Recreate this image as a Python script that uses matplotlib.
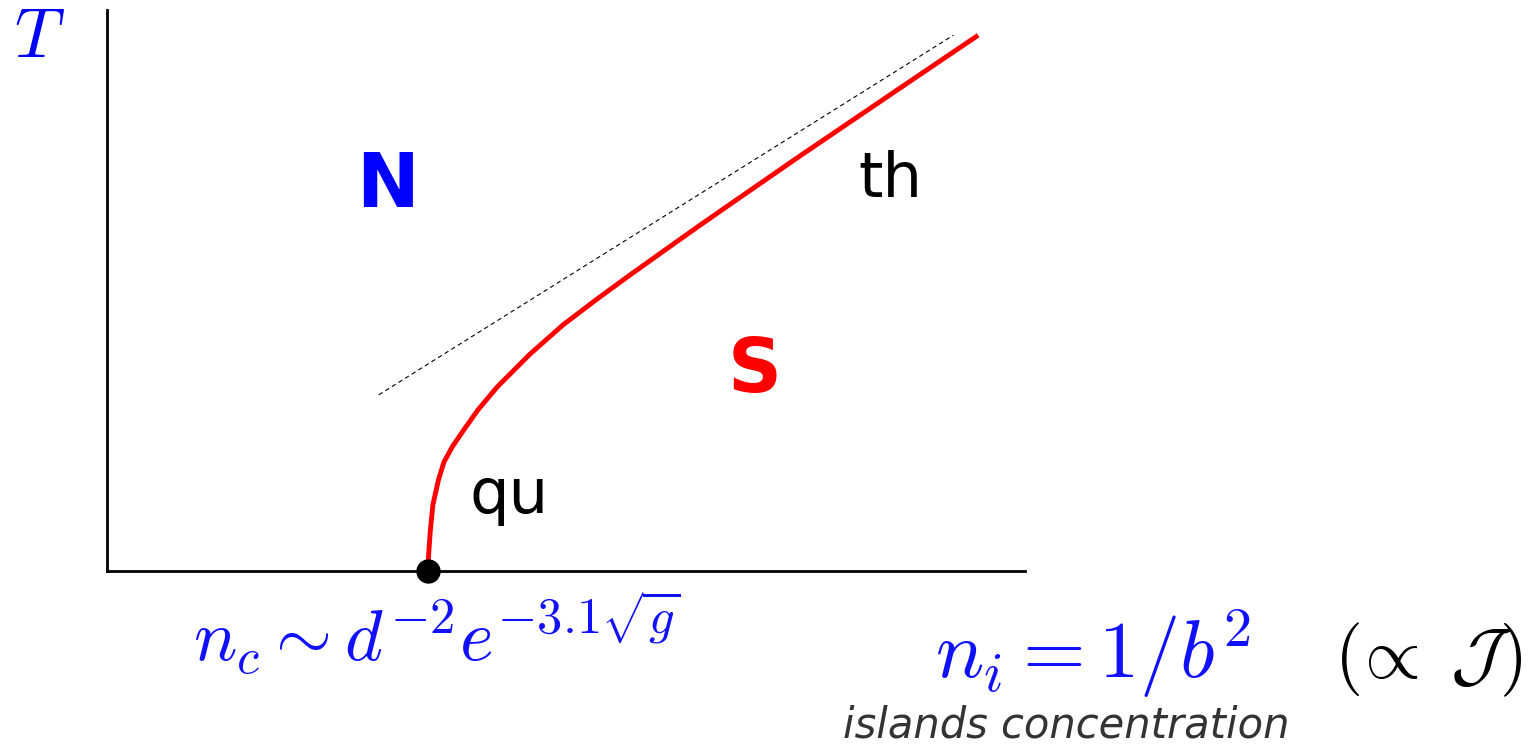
"""
Phase diagram: normal / superconducting boundary vs islands concentration
"""

import matplotlib
matplotlib.use("Agg")
import matplotlib.pyplot as plt

plt.rcParams["mathtext.fontset"] = "cm"
plt.rcParams["font.family"] = ["DejaVu Sans"]

W, H = 1537, 746

# transition line T_c(n), read in axis units (0..10 on both axes)
n_curve = [3.50, 3.50, 3.52, 3.55, 3.61, 3.67, 3.76, 3.88, 4.04, 4.25,
           4.61, 4.97, 5.34, 5.70, 6.06, 6.43, 6.79, 7.55, 8.64, 9.49]
t_curve = [0.00, 0.20, 0.68, 1.18, 1.62, 1.94, 2.21, 2.50, 2.87, 3.28,
           3.87, 4.39, 4.85, 5.28, 5.70, 6.13, 6.54, 7.40, 8.61, 9.55]

# classical (thermal) asymptote
n_asym = [2.96, 9.22]
t_asym = [3.14, 9.55]

# quantum critical point n_c
n_crit = 3.50
t_crit = 0.0

# region / regime labels: text, x, y (baseline), colour, weight, size
region_labels = [
    ("N", 3.06, 6.49, "#0000ff", "bold", 54),
    ("S", 7.05, 3.19, "#ff0000", "bold", 54),
    ("th", 8.53, 6.67, "black", "normal", 45),
    ("qu", 4.38, 1.03, "black", "normal", 45),
]


def fig_xy(px, py):
    """pixel position (from top-left) -> figure fraction"""
    return px / W, 1 - py / H


fig = plt.figure(figsize=(W / 100, H / 100), dpi=100)
ax = fig.add_axes([107 / W, (H - 571) / H, 918 / W, 561 / H])
ax.set_xlim(0, 10)
ax.set_ylim(0, 10)
for side in ("top", "right"):
    ax.spines[side].set_visible(False)
for side in ("left", "bottom"):
    ax.spines[side].set_linewidth(2)
ax.set_xticks([])
ax.set_yticks([])

ax.plot(n_asym, t_asym, color="black", lw=0.8, dashes=(4, 3))
ax.plot(n_curve, t_curve, color="#ff0000", lw=3.5, solid_capstyle="butt",
        solid_joinstyle="round")
ax.plot([n_crit], [t_crit], "o", color="black", ms=16.5, clip_on=False, zorder=5)

for text, x, y, color, weight, size in region_labels:
    ax.text(x, y, text, color=color, fontweight=weight, fontsize=size,
            ha="center", va="baseline")

# axis labels
fig.text(*fig_xy(39, 57), r"$T$", color="#0000ff", fontsize=50,
         ha="center", va="baseline")
fig.text(*fig_xy(437, 662), r"$n_c \sim d^{-2}e^{-3.1\sqrt{g}}$",
         color="#1010ff", fontsize=52, ha="center", va="baseline")
fig.text(*fig_xy(935, 678), r"$n_i = 1/b^2$", color="#1010ff",
         fontsize=58, ha="left", va="baseline")
fig.text(*fig_xy(1522, 678), r"$(\!\propto\;\mathcal{J})$", color="black",
         fontsize=52, ha="right", va="baseline")
fig.text(*fig_xy(843, 737), "islands concentration", color="#333333",
         fontsize=30, style="italic", ha="left", va="baseline")

fig.savefig("out.png", dpi=100)
